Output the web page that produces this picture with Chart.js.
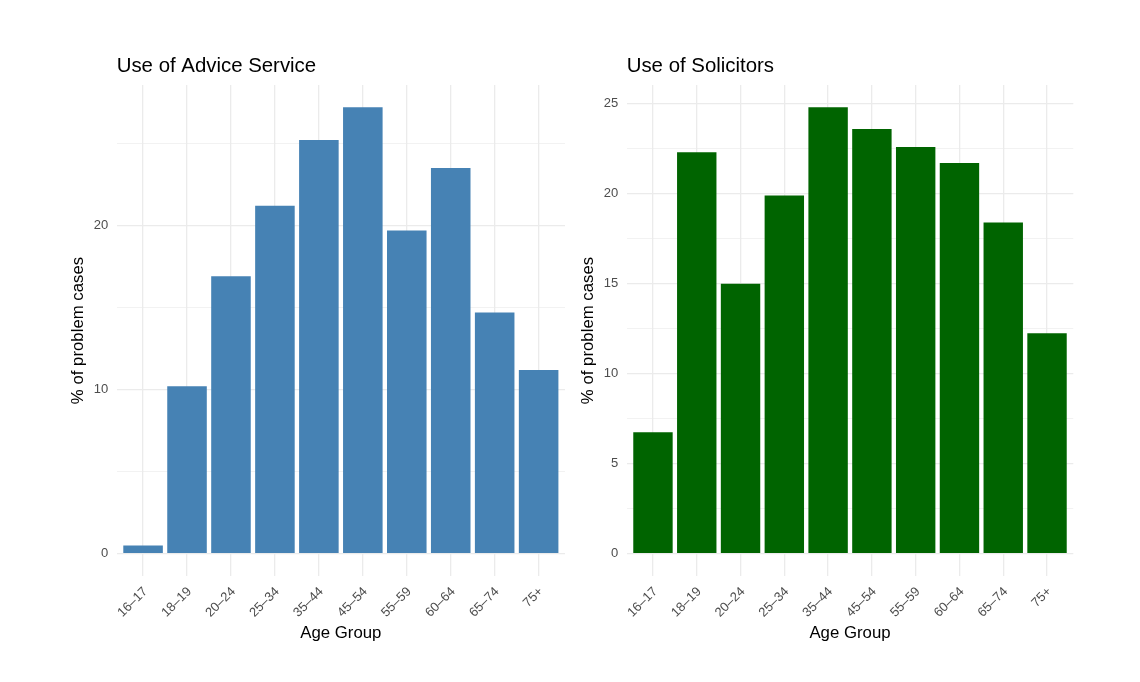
<!DOCTYPE html>
<html><head><meta charset="utf-8">
<script src="https://cdn.jsdelivr.net/npm/chart.js@4"></script>
<style>
html,body{margin:0;padding:0;background:#fff;}
#wrap{position:relative;width:1140px;height:682px;overflow:hidden;}
.c{position:absolute;top:0;width:570px;height:682px;}
</style></head><body>
<div id="wrap">
<div class="c" style="left:0"><canvas id="left"></canvas></div>
<div class="c" style="left:570px"><canvas id="right"></canvas></div>
</div>
<script>
const ageGroups = ['16–17','18–19','20–24','25–34','35–44','45–54','55–59','60–64','65–74','75+'];
const adviceService = [0.5, 10.2, 16.9, 21.2, 25.2, 27.2, 19.7, 23.5, 14.7, 11.2];
const solicitors = [6.75, 22.3, 15.0, 19.9, 24.8, 23.6, 22.6, 21.7, 18.4, 12.25];
const adviceMajorTicks = [0, 10, 20];
const solicitorMajorTicks = [0, 5, 10, 15, 20, 25];

const FONT = "'Liberation Sans', Arial, Helvetica, sans-serif";
const GRID = '#ebebeb';

function makeChart(id, titleText, values, color, majorTicks, padLeft, padRight) {
  const vmax = Math.max(...values);
  const yMin = -0.05 * vmax, yMax = 1.05 * vmax;
  const step = majorTicks[1] - majorTicks[0];
  const minor = [];
  for (let v = majorTicks[0] - step / 2; v <= yMax; v += step) if (v >= yMin) minor.push(v);
  const allTicks = majorTicks.concat(minor).sort((a, b) => a - b);
  const isMinor = v => minor.some(m => Math.abs(m - v) < 1e-9);

  return new Chart(document.getElementById(id), {
    type: 'bar',
    data: {
      datasets: [{
        data: ageGroups.map((g, i) => ({ x: i, y: values[i] })),
        backgroundColor: color,
        borderWidth: 0,
        barPercentage: 0.9,
        categoryPercentage: 1.0
      }]
    },
    options: {
      responsive: true,
      maintainAspectRatio: false,
      animation: false,
      layout: { padding: { left: padLeft, right: padRight, top: 0, bottom: 0 } },
      plugins: {
        legend: { display: false },
        tooltip: { enabled: false },
        title: {
          display: true, text: titleText, align: 'start', fullSize: false,
          color: '#000', font: { family: FONT, size: 20.4, weight: 'normal', lineHeight: 1.2 },
          padding: { top: 53.8, bottom: 6.7 }
        }
      },
      scales: {
        x: {
          type: 'linear', min: -0.6, max: 9.6, offset: false,
          afterBuildTicks: s => { s.ticks = ageGroups.map((g, i) => ({ value: i })); },
          afterFit: s => { s.height = 106; },
          ticks: {
            autoSkip: false, maxRotation: 45, minRotation: 45, padding: 8, labelOffset: 2.5,
            color: '#4d4d4d', font: { family: FONT, size: 13 },
            callback: v => ageGroups[v]
          },
          grid: { color: GRID, lineWidth: 1.3, drawTicks: false, offset: false },
          border: { display: false },
          title: {
            display: true, text: 'Age Group', color: '#000',
            font: { family: FONT, size: 16.8, lineHeight: 1.2 },
            padding: { top: 0, bottom: 39 }
          }
        },
        y: {
          min: yMin, max: yMax,
          afterBuildTicks: s => { s.ticks = allTicks.map(v => ({ value: v })); },
          afterFit: s => { s.width = 52.3; },
          ticks: {
            autoSkip: false, padding: 8.4, color: '#4d4d4d', font: { family: FONT, size: 13 },
            callback: v => isMinor(v) ? '' : String(v)
          },
          grid: {
            drawTicks: false,
            color: GRID,
            lineWidth: ctx => (ctx.tick && isMinor(ctx.tick.value)) ? 0.65 : 1.3
          },
          border: { display: false },
          title: {
            display: true, text: '% of problem cases', color: '#000',
            font: { family: FONT, size: 16.8, lineHeight: 1.2 },
            padding: { top: 4, bottom: 0 }
          }
        }
      }
    }
  });
}

makeChart('left', 'Use of Advice Service', adviceService, '#4682B4', adviceMajorTicks, 64.4, 5);
makeChart('right', 'Use of Solicitors', solicitors, '#006400', solicitorMajorTicks, 4.4, 66.7);
</script>
</body></html>
